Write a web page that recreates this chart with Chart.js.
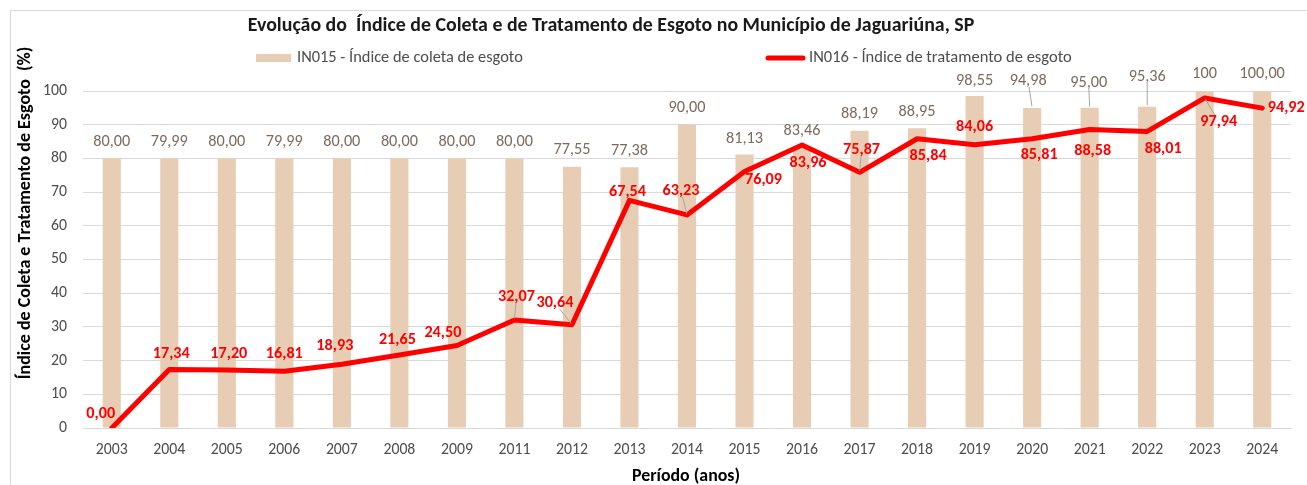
<!DOCTYPE html>
<html><head><meta charset="utf-8">
<script src="https://cdn.jsdelivr.net/npm/chart.js@4/dist/chart.umd.min.js"></script>
<style>html,body{margin:0;padding:0;background:#fff;overflow:hidden}#wrap{position:relative;width:1307px;height:485px}</style>
</head><body><div id="wrap"><canvas id="c" width="1307" height="485"></canvas></div>
<script>
// ---- data ----
const years = ['2003','2004','2005','2006','2007','2008','2009','2011','2012','2013','2014','2015','2016','2017','2018','2019','2020','2021','2022','2023','2024'];
const coleta = [80.00,79.99,80.00,79.99,80.00,80.00,80.00,80.00,77.55,77.38,90.00,81.13,83.46,88.19,88.95,98.55,94.98,95.00,95.36,100,100.00];
const tratamento = [0.00,17.34,17.20,16.81,18.93,21.65,24.50,32.07,30.64,67.54,63.23,76.09,83.96,75.87,85.84,84.06,85.81,88.58,88.01,97.94,94.92];
const coletaLabelOverride = {19: '100'};
const titleText = 'Evolução do  Índice de Coleta e de Tratamento de Esgoto no Município de Jaguariúna, SP';
const legendColeta = 'IN015 - Índice de coleta de esgoto';
const legendTrat = 'IN016 - Índice de tratamento de esgoto';
const yTitle = 'Índice de Coleta e Tratamento de Esgoto  (%)';
const xTitle = 'Período (anos)';

// ---- style ----
const FAMILY = "Carlito, Lato, 'Open Sans', sans-serif";
const BAR_COLOR = '#E7CDB3';
const LINE_COLOR = '#FF0000';
const BAR_LABEL_COLOR = '#7D6A5C';
const TEXT_GRAY = '#4D4D4D';
const barLabelOffset = [[0,-16],[0,-16],[0,-16],[0,-16],[0,-16],[0,-16],[0,-16],[0,-16],[0,-17],[0,-16],[0,-17],[0,-16],[0,-16],[0,-17],[0,-16],[0,-15],[-4,-27],[-1,-25],[0,-30],[0,-17],[0,-17]];
const lineLabelOffset = [[-11,-14],[2,-16],[2,-16],[0,-17],[-7,-18],[-2,-15],[-14,-12],[2,-23],[-17,-22],[-2,-8],[-6,-24],[19,8],[6,18],[2,-22],[11,17],[0,-18],[7,16],[3,21],[16,18],[14,24],[24,0]];
const barLeaders = [16,17,18];
const lineLeaders = [7,8,10,13,19];

const mctx = document.createElement('canvas').getContext('2d');
function fitSize(text, weight, target){
  mctx.font = `${weight} 20px ${FAMILY}`;
  return 20*target/mctx.measureText(text).width;
}
const TICK_SIZE = fitSize('2013', 400, 32);
const BAR_LABEL_SIZE = fitSize('80,00', 400, 37);
const LINE_LABEL_SIZE = fitSize('17,34', 700, 37);

function fmt(v){ return v.toFixed(2).replace('.', ','); }
function fitFont(text, weight, target){
  return `${weight} ${fitSize(text, weight, target).toFixed(2)}px ${FAMILY}`;
}
function leader(ctx, lx, ly, w, h, ax, ay){
  const dx = ax - lx, dy = ay - ly;
  const tx = dx !== 0 ? (w/2)/Math.abs(dx) : Infinity;
  const ty = dy !== 0 ? (h/2)/Math.abs(dy) : Infinity;
  const t = Math.min(tx, ty);
  if (t >= 1) return;
  const sx = lx + dx*t, sy = ly + dy*t;
  const len = Math.hypot(ax-sx, ay-sy);
  if (len < 3) return;
  const ex = ax - (ax-sx)/len*1.5, ey = ay - (ay-sy)/len*1.5;
  ctx.save(); ctx.strokeStyle = '#A6A6A6'; ctx.lineWidth = 1;
  ctx.beginPath(); ctx.moveTo(sx, sy); ctx.lineTo(ex, ey); ctx.stroke(); ctx.restore();
}

const deco = {
  id: 'deco',
  beforeDraw(chart){
    const ctx = chart.ctx;
    ctx.save();
    ctx.fillStyle = '#fff'; ctx.fillRect(0,0,chart.width,chart.height);
    ctx.strokeStyle = '#D9D9D9'; ctx.lineWidth = 1;
    ctx.strokeRect(10.5, 10.5, chart.width + 20, chart.height + 20);
    ctx.restore();
  },
  afterDatasetsDraw(chart){
    const ctx = chart.ctx;
    const bars = chart.getDatasetMeta(0).data;
    const pts = chart.getDatasetMeta(1).data;
    ctx.save();
    ctx.textAlign = 'center'; ctx.textBaseline = 'middle';
    ctx.font = `400 ${BAR_LABEL_SIZE.toFixed(2)}px ${FAMILY}`;
    ctx.fillStyle = BAR_LABEL_COLOR;
    bars.forEach((el, i) => {
      const t = coletaLabelOverride[i] || fmt(coleta[i]);
      const lx = el.x + barLabelOffset[i][0], ly = el.y + barLabelOffset[i][1];
      ctx.fillText(t, lx, ly);
      if (barLeaders.includes(i)) leader(ctx, lx, ly, ctx.measureText(t).width + 2, 12, el.x, el.y);
    });
    ctx.font = `700 ${LINE_LABEL_SIZE.toFixed(2)}px ${FAMILY}`;
    pts.forEach((el, i) => {
      const t = fmt(tratamento[i]);
      const lx = el.x + lineLabelOffset[i][0], ly = el.y + lineLabelOffset[i][1];
      if (lineLeaders.includes(i)) leader(ctx, lx, ly, ctx.measureText(t).width + 2, 12, el.x, el.y);
      ctx.fillStyle = LINE_COLOR;
      ctx.fillText(t, lx, ly);
    });
    ctx.restore();
  },
  afterDraw(chart){
    const ctx = chart.ctx;
    ctx.save();
    ctx.textBaseline = 'middle';
    ctx.textAlign = 'center';
    ctx.fillStyle = '#1A1A1A';
    ctx.font = fitFont(titleText, 700, 727);
    ctx.fillText(titleText, 611, 26);
    ctx.fillStyle = BAR_COLOR;
    ctx.fillRect(256, 54, 35, 8);
    ctx.strokeStyle = LINE_COLOR; ctx.lineWidth = 5; ctx.lineCap = 'round';
    ctx.beginPath(); ctx.moveTo(768, 58); ctx.lineTo(803, 58); ctx.stroke();
    ctx.textAlign = 'left'; ctx.fillStyle = TEXT_GRAY;
    ctx.font = fitFont(legendColeta, 400, 226);
    ctx.fillText(legendColeta, 297, 58);
    ctx.font = fitFont(legendTrat, 400, 263);
    ctx.fillText(legendTrat, 809, 58);
    ctx.fillStyle = '#000';
    ctx.textAlign = 'center';
    ctx.font = fitFont(xTitle, 700, 108);
    ctx.fillText(xTitle, 686, 477);
    ctx.translate(25, 213); ctx.rotate(-Math.PI/2);
    ctx.font = fitFont(yTitle, 700, 333);
    ctx.fillText(yTitle, 0, 0);
    ctx.restore();
  }
};

new Chart(document.getElementById('c'), {
  type: 'bar',
  data: {
    labels: years,
    datasets: [
      { type: 'bar', label: legendColeta, data: coleta, backgroundColor: BAR_COLOR, borderWidth: 0,
        barPercentage: 0.315, categoryPercentage: 1, order: 2 },
      { type: 'line', label: legendTrat, data: tratamento, borderColor: LINE_COLOR, backgroundColor: LINE_COLOR,
        borderWidth: 5, pointRadius: 0, pointHoverRadius: 0, tension: 0, borderJoinStyle: 'round', borderCapStyle: 'round',
        clip: {left: 6, right: 6, top: 6, bottom: 0}, order: 1 }
    ]
  },
  options: {
    responsive: false, devicePixelRatio: 1, animation: false,
    layout: { padding: { top: 91, right: 16, left: 0, bottom: 0 } },
    plugins: { legend: { display: false }, title: { display: false }, tooltip: { enabled: false } },
    scales: {
      x: {
        grid: { display: false, drawTicks: false },
        border: { display: true, color: '#D9D9D9', width: 1 },
        ticks: { color: TEXT_GRAY, font: { family: FAMILY, size: TICK_SIZE }, padding: 13, maxRotation: 0, autoSkip: false },
        afterFit(s){ s.height = 57; }
      },
      y: {
        min: 0, max: 100,
        grid: { color: '#D9D9D9', drawTicks: false },
        border: { display: false },
        ticks: { stepSize: 10, color: TEXT_GRAY, font: { family: FAMILY, size: TICK_SIZE }, padding: 16 },
        afterFit(s){ s.width = 83; }
      }
    }
  },
  plugins: [deco]
});
</script></body></html>
